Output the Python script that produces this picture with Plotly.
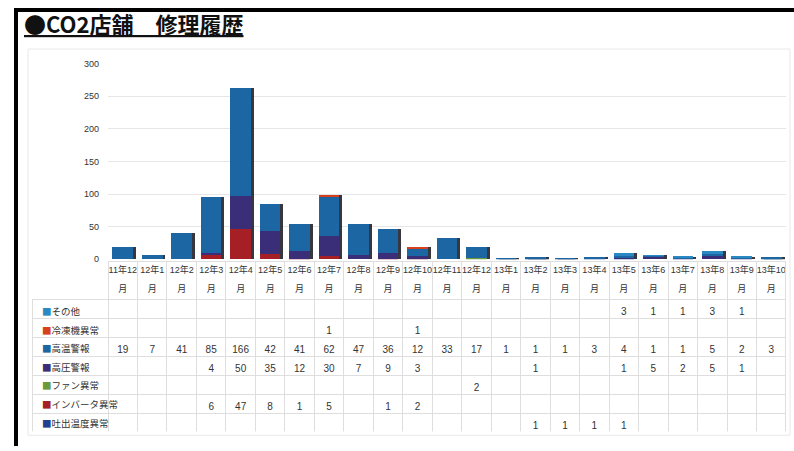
import plotly.graph_objects as go

categories = ["11年12月", "12年1月", "12年2月", "12年3月", "12年4月", "12年5月", "12年6月",
              "12年7月", "12年8月", "12年9月", "12年10月", "12年11月", "12年12月",
              "13年1月", "13年2月", "13年3月", "13年4月", "13年5月", "13年6月", "13年7月",
              "13年8月", "13年9月", "13年10月"]
tick_line1 = ["11年12", "12年1", "12年2", "12年3", "12年4", "12年5", "12年6", "12年7",
              "12年8", "12年9", "12年10", "12年11", "12年12", "13年1", "13年2", "13年3",
              "13年4", "13年5", "13年6", "13年7", "13年8", "13年9", "13年10"]
tick_line2 = ["月"] * 23
y_ticks = [0, 50, 100, 150, 200, 250, 300]

N = None
sonota =      [N, N, N, N, N, N, N, N, N, N, N, N, N, N, N, N, N, 3, 1, 1, 3, 1, N]
reitouki =    [N, N, N, N, N, N, N, 1, N, N, 1, N, N, N, N, N, N, N, N, N, N, N, N]
kouon =       [19, 7, 41, 85, 166, 42, 41, 62, 47, 36, 12, 33, 17, 1, 1, 1, 3, 4, 1, 1, 5, 2, 3]
kouatsu =     [N, N, N, 4, 50, 35, 12, 30, 7, 9, 3, N, N, N, 1, N, N, 1, 5, 2, 5, 1, N]
fan =         [N, N, N, N, N, N, N, N, N, N, N, N, 2, N, N, N, N, N, N, N, N, N, N]
inverter =    [N, N, N, 6, 47, 8, 1, 5, N, 1, 2, N, N, N, N, N, N, N, N, N, N, N, N]
tosyutsu =    [N, N, N, N, N, N, N, N, N, N, N, N, N, N, 1, 1, 1, 1, N, N, N, N, N]

series_names = ["その他", "冷凍機異常", "高温警報", "高圧警報", "ファン異常", "インバータ異常", "吐出温度異常"]
series_values = [sonota, reitouki, kouon, kouatsu, fan, inverter, tosyutsu]
series_colors = ["#2a88c2", "#d8401c", "#1b66a3", "#3a2e78", "#6a9a3a", "#a51f24", "#23408f"]

W, H = 794, 451
FONT = "Liberation Sans, Noto Sans CJK JP, sans-serif"
TXT = "#333333"
CLEAR = "rgba(0,0,0,0)"
BAR_W = 0.7

def px_x(x):
    return x / W

def px_y(y):
    return 1 - y / H

fig = go.Figure()

# drop shadow behind each stacked column (base subplot x/y)
totals = [sum(v for v in col if v is not None) for col in zip(*series_values)]
fig.add_trace(go.Bar(
    x=categories, y=totals, xaxis="x", yaxis="y",
    width=BAR_W, offset=-BAR_W / 2 + 0.1,
    marker=dict(color="#15151f", line=dict(width=0)), opacity=0.85,
    showlegend=False, hoverinfo="skip",
))

# stacked bars on the overlaying axis (drawn above the shadow); bottom-most series first
for name, vals, col in reversed(list(zip(series_names, series_values, series_colors))):
    fig.add_trace(go.Bar(
        x=categories, y=[v if v is not None else 0 for v in vals], name=name,
        xaxis="x2", yaxis="y", width=BAR_W,
        marker=dict(color=col, line=dict(width=0)),
        showlegend=False, hoverinfo="skip",
    ))

# data table below the plot (header row is the category label row)
TABLE_TOP, HEADER_H, ROW_H = 262, 38, 19
LABEL_L, PLOT_L, PLOT_R = 32, 108, 786
col_w = (PLOT_R - PLOT_L) / len(categories)
data_cols = []
for i in range(len(categories)):
    data_cols.append(["" if s[i] is None else str(s[i]) for s in series_values])

table_bottom = TABLE_TOP + HEADER_H + ROW_H * len(series_names)
fig.add_trace(go.Table(
    domain=dict(x=[px_x(LABEL_L), px_x(PLOT_R + 1)], y=[px_y(table_bottom + 3), px_y(TABLE_TOP)]),
    columnwidth=[PLOT_L - LABEL_L] + [col_w] * len(categories),
    header=dict(
        values=[""] * (len(categories) + 1),
        height=HEADER_H,
        fill=dict(color=CLEAR),
        line=dict(color=[CLEAR] + ["#dedede"] * len(categories), width=1),
        font=dict(family=FONT, size=10, color=TXT),
    ),
    cells=dict(
        values=[[""] * len(series_names)] + data_cols,
        height=ROW_H,
        align="center",
        fill=dict(color=CLEAR),
        line=dict(color="#dedede", width=1),
        font=dict(family=FONT, size=10, color=TXT),
    ),
))

annotations = [dict(
    x=px_x(22), y=px_y(18), xref="paper", yref="paper", xanchor="left", yanchor="middle",
    text="<b><u>●CO2店舗　修理履歴</u></b>", showarrow=False,
    font=dict(family="Noto Sans CJK JP, sans-serif", size=22, color="#111111"),
)]
# row labels with colored legend keys
for k, (name, col) in enumerate(zip(series_names, series_colors)):
    yc = TABLE_TOP + HEADER_H + ROW_H * (k + 0.5) + 3.5
    annotations.append(dict(
        x=px_x(LABEL_L + 8), y=px_y(yc), xref="paper", yref="paper",
        xanchor="left", yanchor="middle", showarrow=False,
        text=f"<span style='color:{col}'>■</span>{name}",
        font=dict(family="Noto Sans CJK JP, sans-serif", size=9.5, color=TXT),
    ))

fig.update_layout(
    width=W, height=H,
    margin=dict(l=0, r=0, t=0, b=0),
    paper_bgcolor="white", plot_bgcolor="white",
    barmode="stack", bargap=0.3,
    xaxis=dict(domain=[px_x(PLOT_L), px_x(PLOT_R)], type="category",
               categoryorder="array", categoryarray=categories,
               tickmode="array", tickvals=categories, ticktext=tick_line1,
               ticklabelstandoff=4, tickangle=0,
               tickfont=dict(family=FONT, size=9, color=TXT),
               showgrid=False, zeroline=False, showline=False, ticks=""),
    xaxis2=dict(overlaying="x", matches="x", anchor="y", side="bottom", type="category",
                categoryorder="array", categoryarray=categories,
                tickmode="array", tickvals=categories, ticktext=tick_line2,
                ticklabelstandoff=23, tickangle=0,
                tickfont=dict(family=FONT, size=9, color=TXT),
                showgrid=False, zeroline=False, showline=False, ticks=""),
    yaxis=dict(domain=[px_y(260), px_y(60)], range=[0, 300], tickvals=y_ticks,
               showgrid=True, gridcolor="#e6e6e6", gridwidth=1, zeroline=False,
               ticks="", ticklabelstandoff=8,
               tickfont=dict(family=FONT, size=9, color=TXT)),
    font=dict(family=FONT),
    annotations=annotations,
    shapes=[
        dict(type="line", xref="paper", yref="paper", x0=px_x(16), x1=px_x(16),
             y0=px_y(4), y1=0, line=dict(color="black", width=4)),
        dict(type="line", xref="paper", yref="paper", x0=px_x(14), x1=1,
             y0=px_y(5), y1=px_y(5), line=dict(color="black", width=4)),
        dict(type="rect", xref="paper", yref="paper", x0=px_x(28), x1=px_x(790),
             y0=px_y(440), y1=px_y(45), line=dict(color="#e8e8e8", width=1)),
    ],
)

fig.write_html("out.html")
